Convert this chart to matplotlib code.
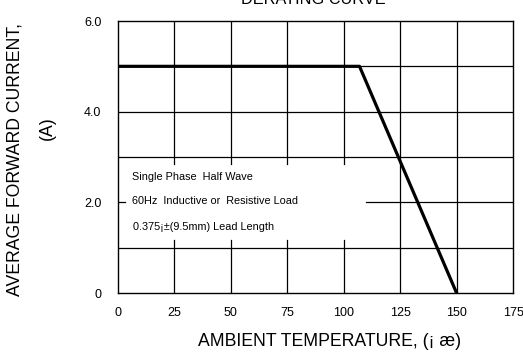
#!/usr/bin/env python3

import numpy as np
import matplotlib
matplotlib.use("Agg")
import matplotlib.pyplot as plt

plt.rcParams["font.family"] = ["Liberation Sans", "DejaVu Sans"]

# derating curve: flat then linear down to zero
temp = [0, 107, 150]
current = [5.0, 5.0, 0.0]

x_ticks = [0, 25, 50, 75, 100, 125, 150, 175]
y_ticks = [0, 2, 4, 6]
y_tick_labels = ["0", "2.0", "4.0", "6.0"]

notes = ["Single Phase  Half Wave",
         "60Hz  Inductive or  Resistive Load",
         "0.375\u00a1\u00b1(9.5mm) Lead Length"]
note_y = [2.56, 2.03, 1.45]

W, H = 523, 352
fig = plt.figure(figsize=(W / 100, H / 100), dpi=100)
ax = fig.add_axes([118 / W, 1 - 293 / H, (513 - 118) / W, (293 - 21) / H])
ax.set_xlim(0, 175)
ax.set_ylim(0, 6)

# grid lines, with the note box (x 0..110, y 1..3) left blank
gl = dict(color="black", lw=0.9, zorder=1)
stub_y = 0.16
stub_x = 3
box_right = 110
for xv in x_ticks[1:-1]:
    if xv < box_right:
        ax.plot([xv, xv], [0, 1 + stub_y], **gl)
        ax.plot([xv, xv], [3 - stub_y, 6], **gl)
    else:
        ax.plot([xv, xv], [0, 6], **gl)
for yv in [1, 3, 4, 5]:
    ax.plot([0, 175], [yv, yv], **gl)
ax.plot([0, stub_x], [2, 2], **gl)
ax.plot([box_right, 175], [2, 2], **gl)

ax.plot(temp, current, color="black", lw=2.3, zorder=3)

for i, t in enumerate(notes):
    ax.text(6 if i < 2 else 6.5, note_y[i], t, fontsize=7.8, va="center", ha="left")

ax.set_xticks(x_ticks)
ax.set_xticklabels([str(v) for v in x_ticks], fontsize=9)
ax.set_yticks(y_ticks)
ax.set_yticklabels(y_tick_labels, fontsize=9)
ax.tick_params(length=0, pad=12)
ax.tick_params(axis="x", pad=10)
for s in ax.spines.values():
    s.set_linewidth(1.0)

fig.text(313 / W, 1 - 4.5 / H, "DERATING CURVE", ha="center", va="baseline", fontsize=11.7)
fig.text(330 / W, 1 - 342 / H, "AMBIENT TEMPERATURE, (\u00a1 \u00e6)", ha="center", va="center",
         fontsize=12.7)
fig.text(15 / W, 1 - 159 / H, "AVERAGE FORWARD CURRENT,", rotation=90, ha="center", va="center",
         fontsize=12.7)
fig.text(47 / W, 1 - 128 / H, "(A)", rotation=90, ha="center", va="center", fontsize=12.7)

fig.savefig("out.png", dpi=100)
